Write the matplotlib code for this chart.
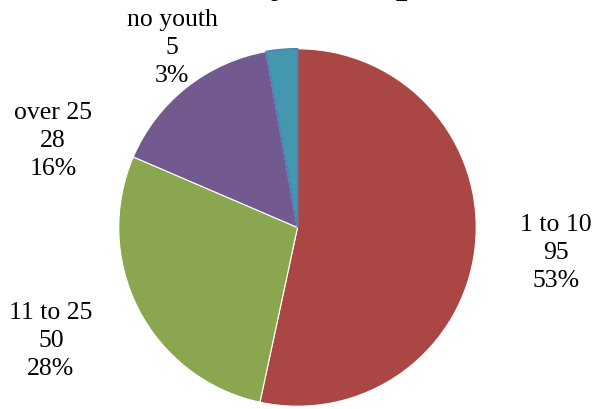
import matplotlib
matplotlib.use("Agg")
import matplotlib.pyplot as plt

# slice data, in drawing order (clockwise from 12 o'clock)
categories = ["1 to 10", "11 to 25", "over 25", "no youth"]
counts = [95, 50, 28, 5]
percents = ["53%", "28%", "16%", "3%"]
colors = ["#AA4744", "#8AA64F", "#72598F", "#4398B0"]

# label centres in pixels (x from left, y from top)
label_pos = [(556, 253), (51, 341), (53, 141), (172, 48)]

W, H = 595, 409


def main():
    plt.rcParams["font.family"] = ["Liberation Serif", "DejaVu Serif"]
    fig = plt.figure(figsize=(W / 100, H / 100), dpi=100)

    # pie box: centre ~ (297, 227), radius ~180 px
    cx, cy, r = 297.5, 227.5, 180.5
    ax = fig.add_axes([(cx - r) / W, (H - cy - r) / H, 2 * r / W, 2 * r / H])
    wedges, _ = ax.pie(counts, colors=colors, startangle=90, counterclock=False,
                       wedgeprops=dict(linewidth=0.8, edgecolor="white"))
    wedges[3].set_edgecolor("#4F81BD")
    wedges[3].set_linewidth(1.2)
    ax.set_xlim(-1.01, 1.01)
    ax.set_ylim(-1.01, 1.01)
    ax.set_aspect("equal")
    ax.axis("off")

    for cat, n, p, (x, y) in zip(categories, counts, percents, label_pos):
        fig.text(x / W, 1 - y / H, f"{cat}\n{n}\n{p}", ha="center", va="center",
                 fontsize=18.5, linespacing=1.33)

    # title is cut off by the top edge in the original, only descenders show
    fig.text(228 / W, 1 + 8 / H, "Youth Ministry Groups", ha="center", va="baseline",
             fontsize=30, fontweight="bold")

    fig.savefig("out.png", dpi=100)
    plt.close(fig)


if __name__ == "__main__":
    main()
